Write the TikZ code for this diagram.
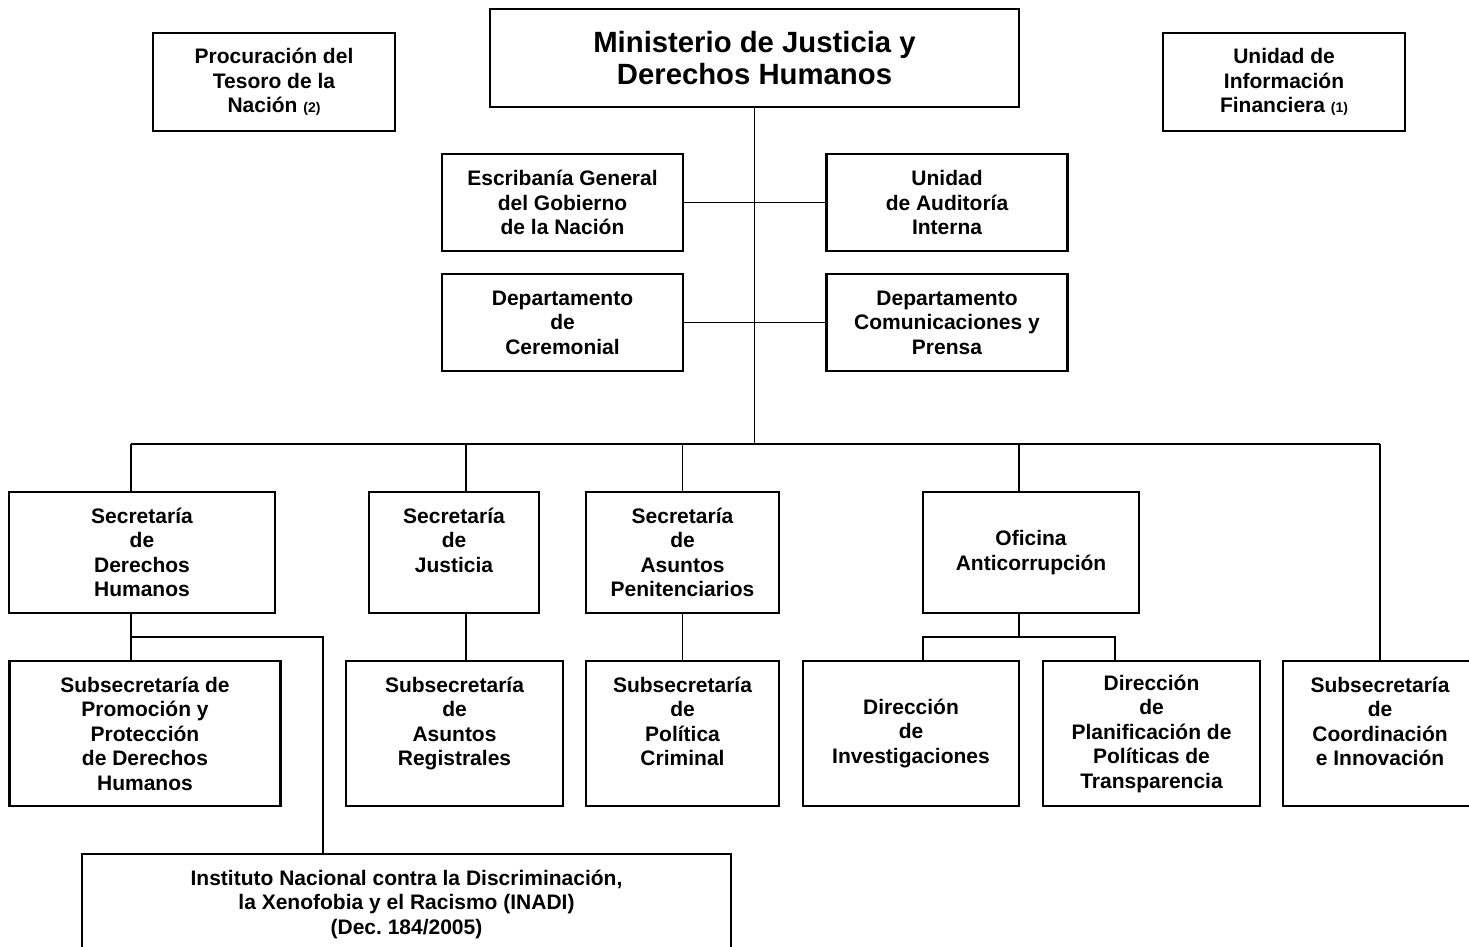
\documentclass[tikz,border=0pt]{standalone}
\usepackage{fontspec}
\setmainfont{Liberation Sans}
\usetikzlibrary{positioning,calc}
\newcommand{\nota}[1]{{\fontsize{14}{14}\selectfont #1}} % small footnote marks
\tikzset{unit/.style={ % Sets the properties for each box
            draw,
            line width=2.3pt,
            align=center,
            inner sep=0pt, outer sep=0pt,
            font=\bfseries\fontsize{21}{24.5}\selectfont},
        head/.style={ % boxes of the top row
            unit,
            minimum width=242pt, minimum height=98pt},
        staff/.style={ % boxes beside the trunk
            unit,
            minimum width=241pt, minimum height=97pt},
        sec/.style={unit, minimum height=121pt}, % secretarías
        sub/.style={unit, minimum height=145pt}, % subsecretarías
        link/.style={ % Sets the properties for each connector
            draw,
            line width=1.6pt}
        }

\begin{document}
\begin{tikzpicture}[x=1pt, y=-1pt]
    \useasboundingbox (0,0) rectangle (1469,946);

    \node[head]                      (proc)  at (274,82)     {Procuración del\\Tesoro de la\\Nación \nota{(2)}};
    \node[head, minimum width=529pt,
          font=\bfseries\fontsize{29.3}{32}\selectfont]
                                     (min)   at (754.5,58)   {Ministerio de Justicia y\\Derechos Humanos};
    \node[head]                      (uif)   at (1284,82)    {Unidad de\\Información\\Financiera \nota{(1)}};

    \node[staff]                     (escr)  at (562.5,202.5) {Escribanía General\\del Gobierno\\de la Nación};
    \node[staff]                     (audit) at (947,202.5)   {Unidad\\de Auditoría\\Interna};
    \node[staff]                     (cerem) at (562.5,322.5) {Departamento\\de\\Ceremonial};
    \node[staff]                     (prensa) at (947,322.5)  {Departamento\\Comunicaciones y\\Prensa};

    \node[sec, minimum width=266pt]   (secdh) at (142,552.5)   {Secretaría\\de\\Derechos\\Humanos};
    \node[sec, minimum width=170pt]   (secjus) at (454,552.5)  {Secretaría\\de\\Justicia\\~};
    \node[sec, minimum width=193pt]   (secap) at (682.5,552.5) {Secretaría\\de\\Asuntos\\Penitenciarios};
    \node[sec, minimum width=216.5pt] (oa)    at (1031,552.5)  {Oficina\\Anticorrupción};

    \node[sub, minimum width=271pt]  (subdh)   at (145,733.5)    {Subsecretaría de\\Promoción y\\Protección\\de Derechos\\Humanos};
    \node[sub, minimum width=217pt]  (subar)   at (454.5,733.5)  {Subsecretaría\\de\\Asuntos\\Registrales\\~};
    \node[sub, minimum width=193pt]  (subpc)   at (682.5,733.5)  {Subsecretaría\\de\\Política\\Criminal\\~};
    \node[sub, minimum width=216pt]  (dirinv)  at (911,733.5)    {Dirección\\de\\Investigaciones};
    \node[sub, minimum width=217pt]  (dirplan) at (1151.5,733.5) {Dirección\\de\\Planificación de\\Políticas de\\Transparencia};
    \node[sub, minimum width=194pt]  (subci)   at (1380,733.5)   {Subsecretaría\\de\\Coordinación\\e Innovación\\~};

    \node[sec, minimum width=649pt]  (inadi) at (406.5,914.5) {Instituto Nacional contra la Discriminación,\\la Xenofobia y el Racismo (INADI)\\(Dec.\ 184/2005)\\~};

    % points of the bus and the forks
    \coordinate (bus)     at (754.5,444);
    \coordinate (bus-w)   at (131,444);
    \coordinate (bus-e)   at (1380,444);
    \coordinate (drop-jus) at (466,444);
    \coordinate (drop-oa) at (1019,444);
    \coordinate (fork-dh) at (131,637);
    \coordinate (turn-dh) at (323,637);
    \coordinate (fork-oa) at (1019,637);
    \coordinate (oa-l)    at (923,637);
    \coordinate (oa-r)    at (1115,637);

    \draw[link] (min) -- (bus);
    \draw[link] (escr) -- (audit);
    \draw[link] (cerem) -- (prensa);
    \draw[link] (bus-w) -- (bus-e);

    \draw[link] (bus-w) -- (bus-w |- secdh.north);
    \draw[link] (drop-jus) -- (drop-jus |- secjus.north);
    \draw[link] (secap.north |- bus) -- (secap.north);
    \draw[link] (drop-oa) -- (drop-oa |- oa.north);
    \draw[link] (bus-e) -- (subci);

    \draw[link] (fork-dh |- secdh.south) -- (fork-dh |- subdh.north);
    \draw[link] (fork-dh) -- (turn-dh) -- (turn-dh |- inadi.north);
    \draw[link] (drop-jus |- secjus.south) -- (drop-jus |- subar.north);
    \draw[link] (secap) -- (subpc);
    \draw[link] (fork-oa |- oa.south) -- (fork-oa);
    \draw[link] (oa-l |- dirinv.north) -- (oa-l) -- (oa-r) -- (oa-r |- dirplan.north);
\end{tikzpicture}
\end{document}
